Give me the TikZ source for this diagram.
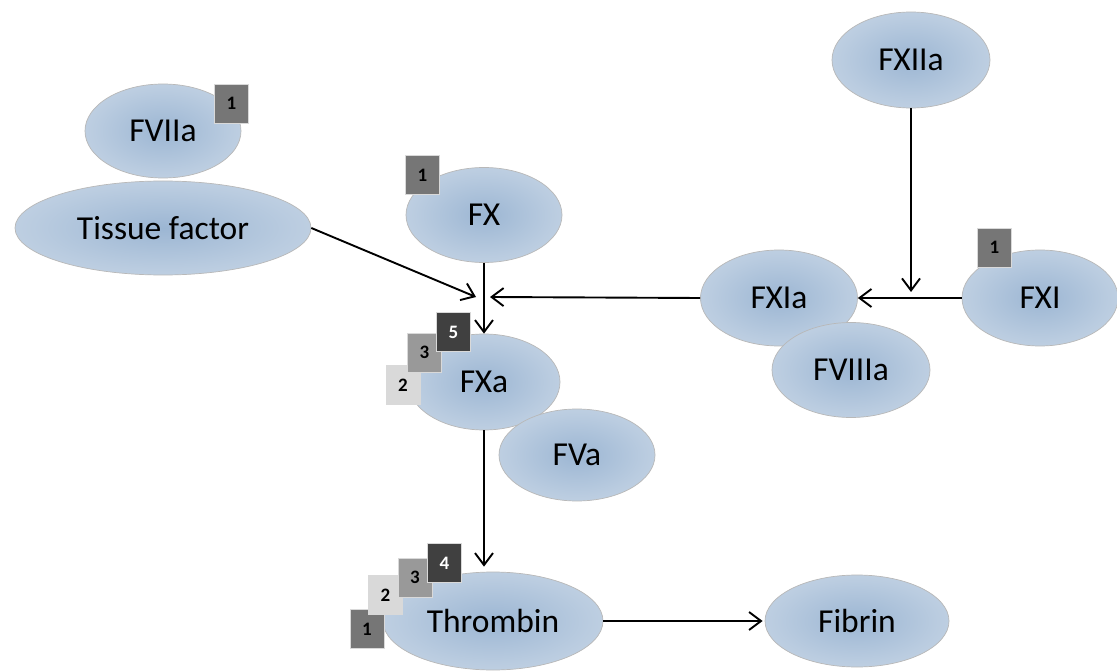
\documentclass[tikz,border=0pt]{standalone}
\usepackage{fontspec}
\setmainfont{Carlito}
\usetikzlibrary{shapes.geometric,arrows.meta,calc}

\definecolor{blobin}{RGB}{156,182,211}
\definecolor{blobmid}{RGB}{186,204,224}
\definecolor{blobout}{RGB}{218,227,237}
\definecolor{tagmid}{RGB}{118,118,118}
\definecolor{tagdark}{RGB}{64,64,64}
\definecolor{taggray}{RGB}{153,153,153}
\definecolor{taglight}{RGB}{217,217,217}

\pgfdeclareradialshading{blobshade}{\pgfpoint{0bp}{0bp}}{%
  color(0bp)=(blobin); color(22bp)=(blobmid); color(50bp)=(blobout); color(60bp)=(blobout)}

\tikzset{
  blob/.style={ellipse, draw=black!28, line width=0.7pt, shading=blobshade,
    inner sep=0pt, font=\fontsize{33.5}{36}\selectfont},
  tag/.style={rectangle, minimum width=34pt, minimum height=39pt, inner sep=0pt,
    draw=white!85!black, line width=0.8pt, font=\fontsize{19}{20}\selectfont\bfseries},
  arr/.style={draw=black, line width=1.9pt, -{Straight Barb[length=12pt,width=18pt,line width=1.9pt]}}
}

\begin{document}
\begin{tikzpicture}[x=1pt,y=-1pt]
\useasboundingbox[fill=white] (0,0) rectangle (1117,671);

% factor molecules
\node[blob, minimum width=156pt, minimum height=94pt] (fviia) at (163,131) {FVIIa};
\node[blob, minimum width=296pt, minimum height=94pt] (tf) at (163,228) {Tissue factor};
\node[blob, minimum width=156pt, minimum height=95pt] (fx) at (484,215) {FX};
\node[blob, minimum width=152pt, minimum height=96pt] (fxa) at (484,382) {FXa};
\node[blob, minimum width=156pt, minimum height=92pt] (fva) at (577,455) {FVa};
\node[blob, minimum width=220pt, minimum height=98pt] (thr) at (493,621) {Thrombin};
\node[blob, minimum width=184pt, minimum height=92pt] (fib) at (857,621) {Fibrin};
\node[blob, minimum width=158pt, minimum height=96pt] (fxiia) at (911,60) {FXIIa};
\node[blob, minimum width=157pt, minimum height=96pt] (fxia) at (779,298) {FXIa};
\node[blob, minimum width=158pt, minimum height=95pt] (fviiia) at (851,370) {FVIIIa};
\node[blob, minimum width=156pt, minimum height=96pt] (fxi) at (1040,298) {FXI};

% free ends of the converging arrows
\coordinate (jl) at (476,297);
\coordinate (jr) at (490,297);
\coordinate (jt) at (911,292);

% reactions
\draw[arr] (tf.east) -- (jl);
\draw[arr] (fx.south) -- (fxa.north);
\draw[arr] (fxia.west) -- (jr);
\draw[arr] (fxiia.south) -- (jt);
\draw[arr] (fxi.west) -- (fxia.east);
\draw[arr, shorten >=5pt] (fxa.south) -- (fxa.south |- thr.north);
\draw[arr, shorten >=2pt] (thr.east) -- (fib.west);

% numbered tags
\node[tag, fill=tagmid] (t1a) at (231.5,103.5) {1};
\node[tag, fill=tagmid] (t1b) at (422.5,175) {1};
\node[tag, fill=tagmid] (t1c) at (994.5,247.5) {1};

\node[tag, fill=taglight] (x2) at (403,385) {2};
\node[tag, fill=taggray] (x3) at (424.5,352.5) {3};
\node[tag, fill=tagdark, text=white] (x5) at (453.5,332) {5};

\node[tag, fill=tagmid] (h1) at (367,629) {1};
\node[tag, fill=taglight] (h2) at (385.5,595) {2};
\node[tag, fill=taggray] (h3) at (415,577.5) {3};
\node[tag, fill=tagdark, text=white] (h4) at (444.5,563) {4};
\end{tikzpicture}
\end{document}
